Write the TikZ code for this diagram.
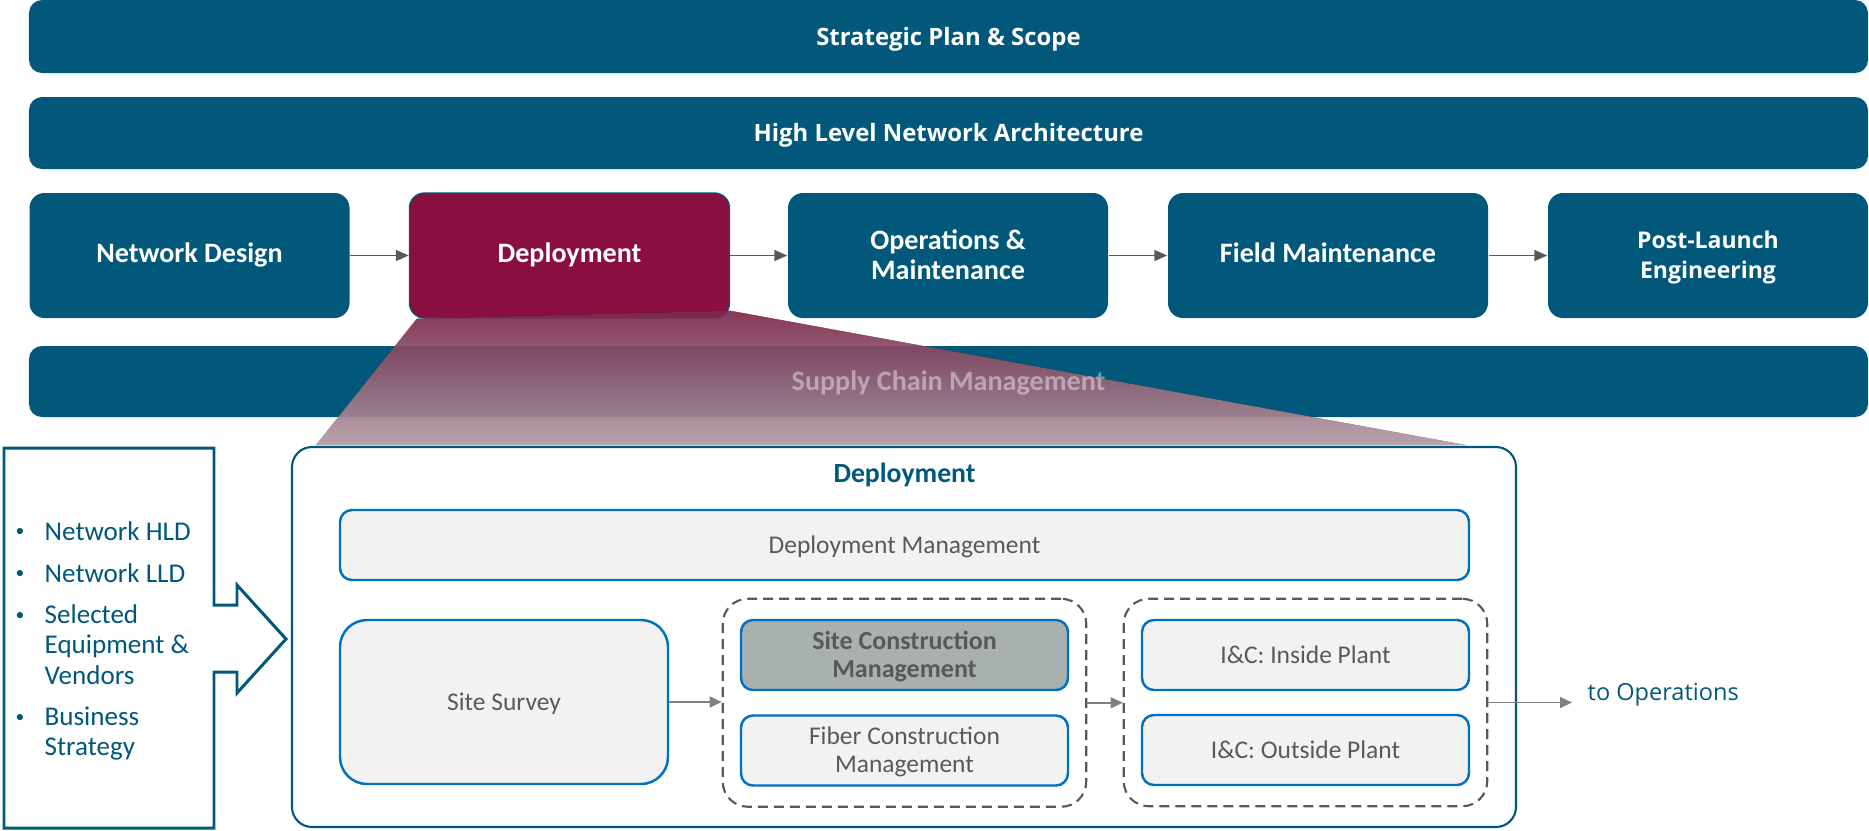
\documentclass[tikz,border=0pt]{standalone}
\usepackage{fontspec}
\setmainfont{Carlito}
\newfontfamily\widefont{Open Sans}
\usepackage{tikz}
\usetikzlibrary{fit,positioning,arrows.meta}

\definecolor{deepteal}{RGB}{2,88,122}
\definecolor{deepmaroon}{RGB}{137,15,64}
\definecolor{boxblue}{RGB}{0,112,192}
\definecolor{lightfill}{RGB}{242,242,242}
\definecolor{sitegrey}{RGB}{168,176,176}
\definecolor{textgrey}{RGB}{89,89,89}
\definecolor{arrowgrey}{RGB}{128,128,128}

\begin{document}
\begin{tikzpicture}[x = 1cm, y = -1cm,
  bar/.style = {fill = deepteal, rounded corners = .13cm, text = white, inner sep = 0,
    minimum width = 18.39cm, minimum height = .72cm, text height = 4.86pt, text depth = 0pt,
    font = \widefont\fontsize{6.8}{8}\selectfont\bfseries},
  phase/.style = {fill = deepteal, rounded corners = .15cm, text = white, inner sep = 0,
    minimum width = 3.2cm, minimum height = 1.25cm, align = center, text height = 4.1pt, text depth = 0pt,
    font = \fontsize{8}{8.54}\selectfont\bfseries},
  flow/.style = {draw = textgrey, line width = .45pt, -{Triangle[length = .13cm, width = .11cm]}},
  task/.style = {draw = boxblue, line width = .7pt, fill = lightfill, rounded corners = .12cm,
    text = textgrey, inner sep = 0, align = center, minimum width = 3.27cm, minimum height = .7cm,
    text height = 4.67pt, text depth = 0pt, font = \fontsize{7.25}{8}\selectfont},
  group/.style = {draw = textgrey, line width = .6pt, dash pattern = on .1cm off .06cm,
    rounded corners = .25cm, inner xsep = .17cm, inner ysep = .2cm},
  link/.style = {draw = arrowgrey, line width = .45pt, -{Triangle[length = .12cm, width = .11cm]}}]
\useasboundingbox (0,0) rectangle (18.69,8.30);

% top bars
\node[bar, minimum height = .73cm] (strat) at (9.485,.365) {Strategic Plan \& Scope};
\node[bar] (hlna) at (9.485,1.33) {High Level Network Architecture};

% phases
\node[phase] (design) at (1.895,2.555) {Network Design};
\node[phase, fill = deepmaroon, draw = deepteal, line width = .4pt] (deploy) at (5.695,2.555) {Deployment};
\node[phase, text height = 13.4pt] (opsm) at (9.48,2.555) {Operations \&\\Maintenance};
\node[phase] (fieldm) at (13.28,2.555) {Field Maintenance};
\node[phase, text height = 13pt, font = \widefont\fontsize{6.55}{8.54}\selectfont\bfseries] (postl) at (17.08,2.555) {Post-Launch\\Engineering};
\draw[flow] (design) -- (deploy);
\draw[flow] (deploy) -- (opsm);
\draw[flow] (opsm) -- (fieldm);
\draw[flow] (fieldm) -- (postl);

\node[bar, minimum height = .71cm] (supply) at (9.485,3.815) {};

% zoom funnel
\fill[top color = deepmaroon!84!white, bottom color = deepmaroon!23!white, fill opacity = .72]
  ([xshift = .08cm]deploy.south west) -- ([yshift = .08cm]deploy.south east) -- (14.66,4.45) -- (3.16,4.45) -- cycle;
\node[text = white, text opacity = .42, inner sep = 0, text height = 5.15pt, text depth = 0pt,
  font = \fontsize{8}{8.54}\selectfont\bfseries] (supplylbl) at (supply.center) {Supply Chain Management};

% inputs
\draw[deepteal, line width = .85pt, fill = white] (.04,4.48) -- (2.14,4.48) -- (2.14,6.05) -- (2.37,6.05) -- (2.37,5.85)
  -- (2.86,6.39) -- (2.37,6.93) -- (2.37,6.72) -- (2.14,6.72) -- (2.14,8.28) -- (.04,8.28) -- cycle;
\node[anchor = west, inner sep = 0, text = deepteal, font = \fontsize{7.7}{8.54}\selectfont] (inputs) at (.15,6.42)
  {\begin{tabular}{@{}l@{}l@{}}
  \makebox[.29cm][l]{\raisebox{.12em}{\fontsize{5}{5}\selectfont\textbullet}} & Network HLD\\[3.4pt]
  \makebox[.29cm][l]{\raisebox{.12em}{\fontsize{5}{5}\selectfont\textbullet}} & Network LLD\\[3.4pt]
  \makebox[.29cm][l]{\raisebox{.12em}{\fontsize{5}{5}\selectfont\textbullet}} & Selected\\
   & Equipment \&\\
   & Vendors\\[3.4pt]
  \makebox[.29cm][l]{\raisebox{.12em}{\fontsize{5}{5}\selectfont\textbullet}} & Business\\
   & Strategy
  \end{tabular}};

% deployment detail
\node[draw = deepteal, line width = .6pt, rounded corners = .2cm, fill = white, inner sep = 0,
  minimum width = 12.24cm, minimum height = 3.8cm] (depbox) at (9.04,6.37) {};
\node[text = deepteal, text height = 5.09pt, text depth = 0pt, font = \fontsize{7.9}{8.54}\selectfont\bfseries] (deptitle) at (9.045,4.74) {Deployment};

\node[task, minimum width = 11.29cm] (dmgmt) at (9.045,5.45) {Deployment Management};
\node[task, rounded corners = .27cm, minimum width = 3.28cm, minimum height = 1.64cm] (survey) at (5.04,7.02) {Site Survey};
\node[task, fill = sitegrey, text height = 12.57pt, font = \fontsize{7.4}{7.8}\selectfont\bfseries] (sitecm) at (9.045,6.55) {Site Construction\\Management};
\node[task, text height = 12.67pt] (fibercm) at (9.045,7.505) {Fiber Construction\\Management};
\node[task] (icin) at (13.055,6.55) {I\&C: Inside Plant};
\node[task] (icout) at (13.055,7.50) {I\&C: Outside Plant};
\node[group, fit = (sitecm) (fibercm)] (grp1) {};
\node[group, fit = (icin) (icout)] (grp2) {};

\node[anchor = west, inner sep = 0, text = deepteal, font = \widefont\fontsize{6.7}{8}\selectfont] (tooper) at (15.87,6.95) {to Operations};

\draw[link] (survey.east) -- (survey.east -| grp1.west);
\draw[link] (grp1.east) -- (grp1.east -| grp2.west);
\draw[link] (grp2.east) -- ([xshift = -.15cm]tooper.west |- grp2.east);
\end{tikzpicture}
\end{document}
